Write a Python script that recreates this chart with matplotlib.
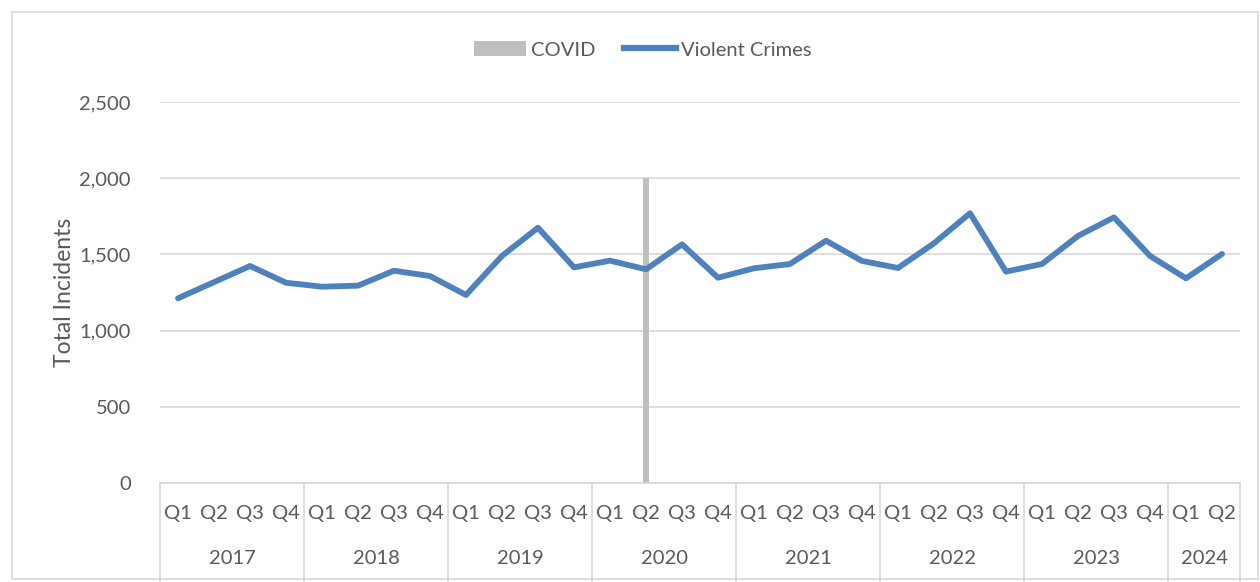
import matplotlib
matplotlib.use("Agg")
import matplotlib.pyplot as plt
from matplotlib.patches import Patch, Rectangle
from matplotlib.lines import Line2D
from matplotlib.ticker import FuncFormatter

years = ["2017", "2018", "2019", "2020", "2021", "2022", "2023", "2024"]
quarters_per_year = [4, 4, 4, 4, 4, 4, 4, 2]
quarter_labels = ["Q1", "Q2", "Q3", "Q4"] * 7 + ["Q1", "Q2"]
violent_crimes = [1212, 1318, 1424, 1314, 1288, 1295, 1393, 1358,
                  1234, 1490, 1675, 1415, 1459, 1402, 1566, 1347,
                  1409, 1437, 1590, 1457, 1411, 1573, 1770, 1387,
                  1437, 1621, 1743, 1490, 1343, 1503]
covid_index = 13
covid_value = 2000

plt.rcParams['font.family'] = ['Lato', 'DejaVu Sans']
txt = "#595959"
grid = "#D9D9D9"
blue = "#4F81BD"
gray = "#BFBFBF"
fs = 14.5

W, H = 1260, 582
fig = plt.figure(figsize=(W / 100, H / 100), dpi=100)
fig.patches.append(Rectangle((12 / W, 3 / H), (W - 14) / W, (H - 15) / H,
                             transform=fig.transFigure, fill=False,
                             edgecolor=grid, linewidth=1.2))

left, right, top, bottom = 160, 1240, 102, 483
ax = fig.add_axes([left / W, 1 - bottom / H, (right - left) / W, (bottom - top) / H])

n = len(violent_crimes)
xs = list(range(n))
ax.bar([covid_index], [covid_value], width=0.17, color=gray, zorder=2)
ax.plot(xs, violent_crimes, color=blue, linewidth=4.2, solid_joinstyle='round',
        solid_capstyle='round', zorder=3)

ax.set_xlim(-0.5, n - 0.5)
ax.set_ylim(0, 2500)
ax.set_yticks(range(0, 2501, 500))
ax.yaxis.set_major_formatter(FuncFormatter(lambda v, p: f"{int(v):,}"))
ax.grid(axis='y', color=grid, linewidth=1.2, zorder=0)
ax.set_axisbelow(True)
for s in ['top', 'right', 'left']:
    ax.spines[s].set_visible(False)
ax.spines['bottom'].set_color(grid)
ax.spines['bottom'].set_linewidth(1.2)
ax.tick_params(axis='y', length=0, labelsize=fs, labelcolor=txt, pad=21)
ax.set_xticks(xs)
ax.set_xticklabels(quarter_labels)
ax.tick_params(axis='x', length=0, labelsize=fs, labelcolor=txt, pad=16)
ax.set_ylabel("Total Incidents", fontsize=16.5, color=txt, labelpad=3)

trans = ax.get_xaxis_transform()
hax = bottom - top
pos = -0.5
bounds = [pos]
for y, q in zip(years, quarters_per_year):
    ax.text(pos + q / 2, -(559 - bottom) / hax, y, transform=trans, ha='center',
            va='center', fontsize=fs, color=txt)
    pos += q
    bounds.append(pos)
for b in bounds:
    ax.add_line(Line2D([b, b], [0, -(H - bottom) / hax], transform=trans,
                       color=grid, linewidth=1.2, clip_on=False))

handles = [Patch(facecolor=gray, edgecolor='none'),
           Line2D([0], [0], color=blue, linewidth=4.5)]
leg = fig.legend(handles, ["COVID", "Violent Crimes"], loc='center',
                 bbox_to_anchor=(643 / W, 1 - 50 / H), ncol=2, frameon=False,
                 fontsize=fs, handlelength=2.6, handletextpad=0.25, columnspacing=1.4)
for t in leg.get_texts():
    t.set_color(txt)

fig.savefig("out.png", dpi=100)
